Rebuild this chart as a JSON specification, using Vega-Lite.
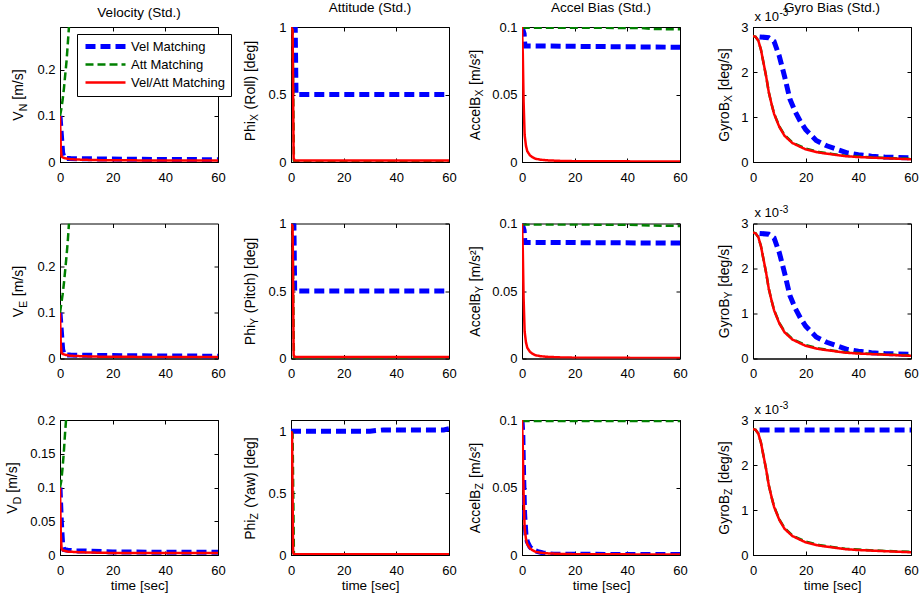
{
"$schema":"https://vega.github.io/schema/vega-lite/v6.json",
"padding":{"left":5,"top":0,"right":5,"bottom":2},
"datasets":{
"VN":[{"s":"Vel Matching","t":0,"v":0.1},{"s":"Vel Matching","t":0.5,"v":0.06},{"s":"Vel Matching","t":1,"v":0.02},{"s":"Vel Matching","t":1.5,"v":0.01},{"s":"Vel Matching","t":2,"v":0.008},{"s":"Vel Matching","t":4,"v":0.0075},{"s":"Vel Matching","t":10,"v":0.007},{"s":"Vel Matching","t":25,"v":0.006},{"s":"Vel Matching","t":40,"v":0.0055},{"s":"Vel Matching","t":60,"v":0.005},
{"s":"Att Matching","t":0,"v":0.1},{"s":"Att Matching","t":0.5,"v":0.115},{"s":"Att Matching","t":1,"v":0.135},{"s":"Att Matching","t":1.5,"v":0.16},{"s":"Att Matching","t":2,"v":0.19},{"s":"Att Matching","t":2.5,"v":0.22},{"s":"Att Matching","t":3,"v":0.26},{"s":"Att Matching","t":3.4,"v":0.293},
{"s":"Vel/Att Matching","t":0,"v":0.1},{"s":"Vel/Att Matching","t":0.3,"v":0.03},{"s":"Vel/Att Matching","t":0.6,"v":0.012},{"s":"Vel/Att Matching","t":1,"v":0.01},{"s":"Vel/Att Matching","t":2,"v":0.008},{"s":"Vel/Att Matching","t":4,"v":0.006},{"s":"Vel/Att Matching","t":8,"v":0.005},{"s":"Vel/Att Matching","t":15,"v":0.004},{"s":"Vel/Att Matching","t":30,"v":0.0035},{"s":"Vel/Att Matching","t":60,"v":0.003}],
"VE":[{"s":"Vel Matching","t":0,"v":0.1},{"s":"Vel Matching","t":0.5,"v":0.06},{"s":"Vel Matching","t":1,"v":0.02},{"s":"Vel Matching","t":1.5,"v":0.01},{"s":"Vel Matching","t":2,"v":0.008},{"s":"Vel Matching","t":4,"v":0.0075},{"s":"Vel Matching","t":10,"v":0.007},{"s":"Vel Matching","t":25,"v":0.006},{"s":"Vel Matching","t":40,"v":0.0055},{"s":"Vel Matching","t":60,"v":0.005},
{"s":"Att Matching","t":0,"v":0.1},{"s":"Att Matching","t":0.5,"v":0.12},{"s":"Att Matching","t":1,"v":0.14},{"s":"Att Matching","t":1.5,"v":0.165},{"s":"Att Matching","t":2,"v":0.195},{"s":"Att Matching","t":2.5,"v":0.225},{"s":"Att Matching","t":3,"v":0.26},{"s":"Att Matching","t":3.4,"v":0.295},
{"s":"Vel/Att Matching","t":0,"v":0.1},{"s":"Vel/Att Matching","t":0.3,"v":0.03},{"s":"Vel/Att Matching","t":0.6,"v":0.012},{"s":"Vel/Att Matching","t":1,"v":0.01},{"s":"Vel/Att Matching","t":2,"v":0.008},{"s":"Vel/Att Matching","t":4,"v":0.006},{"s":"Vel/Att Matching","t":8,"v":0.005},{"s":"Vel/Att Matching","t":15,"v":0.004},{"s":"Vel/Att Matching","t":30,"v":0.0035},{"s":"Vel/Att Matching","t":60,"v":0.003}],
"VD":[{"s":"Vel Matching","t":0,"v":0.1},{"s":"Vel Matching","t":0.5,"v":0.05},{"s":"Vel Matching","t":1,"v":0.015},{"s":"Vel Matching","t":1.5,"v":0.008},{"s":"Vel Matching","t":3,"v":0.007},{"s":"Vel Matching","t":6,"v":0.006},{"s":"Vel Matching","t":10,"v":0.006},{"s":"Vel Matching","t":20,"v":0.0045},{"s":"Vel Matching","t":40,"v":0.004},{"s":"Vel Matching","t":60,"v":0.004},
{"s":"Att Matching","t":0,"v":0.1},{"s":"Att Matching","t":0.5,"v":0.11},{"s":"Att Matching","t":1,"v":0.13},{"s":"Att Matching","t":1.5,"v":0.155},{"s":"Att Matching","t":2,"v":0.185},{"s":"Att Matching","t":2.3,"v":0.2},
{"s":"Vel/Att Matching","t":0,"v":0.1},{"s":"Vel/Att Matching","t":0.3,"v":0.03},{"s":"Vel/Att Matching","t":0.6,"v":0.01},{"s":"Vel/Att Matching","t":1,"v":0.007},{"s":"Vel/Att Matching","t":3,"v":0.005},{"s":"Vel/Att Matching","t":8,"v":0.004},{"s":"Vel/Att Matching","t":20,"v":0.003},{"s":"Vel/Att Matching","t":60,"v":0.003}],
"PX":[{"s":"Vel Matching","t":0,"v":1},{"s":"Vel Matching","t":1.6,"v":1},{"s":"Vel Matching","t":1.9,"v":0.5},{"s":"Vel Matching","t":60,"v":0.5},
{"s":"Att Matching","t":0,"v":1},{"s":"Att Matching","t":0.6,"v":0.98},{"s":"Att Matching","t":0.85,"v":0.5},{"s":"Att Matching","t":1.1,"v":0.01},{"s":"Att Matching","t":1.5,"v":0.004},{"s":"Att Matching","t":60,"v":0.004},
{"s":"Vel/Att Matching","t":0,"v":1},{"s":"Vel/Att Matching","t":0.6,"v":0.98},{"s":"Vel/Att Matching","t":0.8,"v":0.5},{"s":"Vel/Att Matching","t":1,"v":0.03},{"s":"Vel/Att Matching","t":1.3,"v":0.012},{"s":"Vel/Att Matching","t":60,"v":0.012}],
"PY":[{"s":"Vel Matching","t":0,"v":1},{"s":"Vel Matching","t":1.1,"v":1},{"s":"Vel Matching","t":1.4,"v":0.5},{"s":"Vel Matching","t":60,"v":0.5},
{"s":"Att Matching","t":0,"v":1},{"s":"Att Matching","t":0.6,"v":0.98},{"s":"Att Matching","t":0.85,"v":0.5},{"s":"Att Matching","t":1.1,"v":0.01},{"s":"Att Matching","t":1.5,"v":0.004},{"s":"Att Matching","t":60,"v":0.004},
{"s":"Vel/Att Matching","t":0,"v":1},{"s":"Vel/Att Matching","t":0.6,"v":0.98},{"s":"Vel/Att Matching","t":0.8,"v":0.5},{"s":"Vel/Att Matching","t":1,"v":0.03},{"s":"Vel/Att Matching","t":1.3,"v":0.012},{"s":"Vel/Att Matching","t":60,"v":0.012}],
"PZ":[{"s":"Vel Matching","t":0,"v":1},{"s":"Vel Matching","t":30,"v":1},{"s":"Vel Matching","t":35,"v":1.01},{"s":"Vel Matching","t":58,"v":1.01},{"s":"Vel Matching","t":60,"v":1.02},
{"s":"Att Matching","t":0,"v":1},{"s":"Att Matching","t":0.6,"v":0.98},{"s":"Att Matching","t":0.85,"v":0.5},{"s":"Att Matching","t":1.1,"v":0.01},{"s":"Att Matching","t":1.5,"v":0.004},{"s":"Att Matching","t":60,"v":0.004},
{"s":"Vel/Att Matching","t":0,"v":1},{"s":"Vel/Att Matching","t":0.4,"v":0.98},{"s":"Vel/Att Matching","t":0.6,"v":0.5},{"s":"Vel/Att Matching","t":0.8,"v":0.02},{"s":"Vel/Att Matching","t":1.1,"v":0.006},{"s":"Vel/Att Matching","t":60,"v":0.006}],
"AX":[{"s":"Vel Matching","t":0,"v":0.1},{"s":"Vel Matching","t":0.8,"v":0.095},{"s":"Vel Matching","t":1.1,"v":0.086},{"s":"Vel Matching","t":60,"v":0.085},
{"s":"Att Matching","t":0,"v":0.1},{"s":"Att Matching","t":0.5,"v":0.0995},{"s":"Att Matching","t":45,"v":0.0993},{"s":"Att Matching","t":50,"v":0.0985},{"s":"Att Matching","t":60,"v":0.0983},
{"s":"Vel/Att Matching","t":0,"v":0.1},{"s":"Vel/Att Matching","t":0.3,"v":0.08},{"s":"Vel/Att Matching","t":0.6,"v":0.045},{"s":"Vel/Att Matching","t":1,"v":0.02},{"s":"Vel/Att Matching","t":1.5,"v":0.012},{"s":"Vel/Att Matching","t":2,"v":0.008},{"s":"Vel/Att Matching","t":3,"v":0.005},{"s":"Vel/Att Matching","t":4,"v":0.0035},{"s":"Vel/Att Matching","t":5,"v":0.0025},{"s":"Vel/Att Matching","t":7,"v":0.0017},{"s":"Vel/Att Matching","t":10,"v":0.0012},{"s":"Vel/Att Matching","t":15,"v":0.0008},{"s":"Vel/Att Matching","t":20,"v":0.0006},{"s":"Vel/Att Matching","t":30,"v":0.0005},{"s":"Vel/Att Matching","t":60,"v":0.0004}],
"AY":[{"s":"Vel Matching","t":0,"v":0.1},{"s":"Vel Matching","t":0.8,"v":0.095},{"s":"Vel Matching","t":1.1,"v":0.086},{"s":"Vel Matching","t":60,"v":0.0855},
{"s":"Att Matching","t":0,"v":0.1},{"s":"Att Matching","t":0.5,"v":0.0993},{"s":"Att Matching","t":40,"v":0.0991},{"s":"Att Matching","t":50,"v":0.0985},{"s":"Att Matching","t":60,"v":0.0982},
{"s":"Vel/Att Matching","t":0,"v":0.1},{"s":"Vel/Att Matching","t":0.3,"v":0.08},{"s":"Vel/Att Matching","t":0.6,"v":0.045},{"s":"Vel/Att Matching","t":1,"v":0.02},{"s":"Vel/Att Matching","t":1.5,"v":0.012},{"s":"Vel/Att Matching","t":2,"v":0.008},{"s":"Vel/Att Matching","t":3,"v":0.005},{"s":"Vel/Att Matching","t":4,"v":0.0035},{"s":"Vel/Att Matching","t":5,"v":0.0025},{"s":"Vel/Att Matching","t":7,"v":0.0017},{"s":"Vel/Att Matching","t":10,"v":0.0012},{"s":"Vel/Att Matching","t":15,"v":0.0008},{"s":"Vel/Att Matching","t":20,"v":0.0006},{"s":"Vel/Att Matching","t":30,"v":0.0005},{"s":"Vel/Att Matching","t":60,"v":0.0004}],
"AZ":[{"s":"Vel Matching","t":0,"v":0.1},{"s":"Vel Matching","t":0.3,"v":0.09},{"s":"Vel Matching","t":0.6,"v":0.06},{"s":"Vel Matching","t":1,"v":0.03},{"s":"Vel Matching","t":1.5,"v":0.015},{"s":"Vel Matching","t":2,"v":0.01},{"s":"Vel Matching","t":3,"v":0.006},{"s":"Vel Matching","t":4,"v":0.004},{"s":"Vel Matching","t":6,"v":0.0025},{"s":"Vel Matching","t":8,"v":0.0015},{"s":"Vel Matching","t":10,"v":0.001},{"s":"Vel Matching","t":12,"v":0.0006},{"s":"Vel Matching","t":15,"v":0.0005},{"s":"Vel Matching","t":60,"v":0.0004},
{"s":"Att Matching","t":0,"v":0.1},{"s":"Att Matching","t":0.5,"v":0.0993},{"s":"Att Matching","t":60,"v":0.0992},
{"s":"Vel/Att Matching","t":0,"v":0.1},{"s":"Vel/Att Matching","t":0.3,"v":0.08},{"s":"Vel/Att Matching","t":0.6,"v":0.045},{"s":"Vel/Att Matching","t":1,"v":0.02},{"s":"Vel/Att Matching","t":1.5,"v":0.012},{"s":"Vel/Att Matching","t":2,"v":0.008},{"s":"Vel/Att Matching","t":3,"v":0.005},{"s":"Vel/Att Matching","t":4,"v":0.0035},{"s":"Vel/Att Matching","t":5,"v":0.0025},{"s":"Vel/Att Matching","t":7,"v":0.0017},{"s":"Vel/Att Matching","t":10,"v":0.0012},{"s":"Vel/Att Matching","t":15,"v":0.0008},{"s":"Vel/Att Matching","t":20,"v":0.0006},{"s":"Vel/Att Matching","t":30,"v":0.0005},{"s":"Vel/Att Matching","t":60,"v":0.0004}],
"GX":[{"s":"Vel Matching","t":2.5,"v":0.00278},{"s":"Vel Matching","t":6,"v":0.00276},{"s":"Vel Matching","t":8,"v":0.00268},{"s":"Vel Matching","t":10,"v":0.00235},{"s":"Vel Matching","t":12,"v":0.0019},{"s":"Vel Matching","t":14,"v":0.0014},{"s":"Vel Matching","t":16,"v":0.00112},{"s":"Vel Matching","t":18,"v":0.0009},{"s":"Vel Matching","t":20,"v":0.00072},{"s":"Vel Matching","t":24,"v":0.00048},{"s":"Vel Matching","t":28,"v":0.00036},{"s":"Vel Matching","t":32,"v":0.00028},{"s":"Vel Matching","t":36,"v":0.0002},{"s":"Vel Matching","t":40,"v":0.00016},{"s":"Vel Matching","t":45,"v":0.00013},{"s":"Vel Matching","t":50,"v":0.00011},{"s":"Vel Matching","t":55,"v":0.0001},{"s":"Vel Matching","t":60,"v":0.00009},
{"s":"Att Matching","t":0,"v":0.0028},{"s":"Att Matching","t":1,"v":0.00278},{"s":"Att Matching","t":2,"v":0.0027},{"s":"Att Matching","t":3,"v":0.0025},{"s":"Att Matching","t":4,"v":0.0022},{"s":"Att Matching","t":5,"v":0.0019},{"s":"Att Matching","t":6,"v":0.00155},{"s":"Att Matching","t":7,"v":0.0013},{"s":"Att Matching","t":8,"v":0.00108},{"s":"Att Matching","t":10,"v":0.00079},{"s":"Att Matching","t":12,"v":0.0006},{"s":"Att Matching","t":15,"v":0.00043},{"s":"Att Matching","t":20,"v":0.0003},{"s":"Att Matching","t":25,"v":0.00022},{"s":"Att Matching","t":30,"v":0.00018},{"s":"Att Matching","t":35,"v":0.00014},{"s":"Att Matching","t":40,"v":0.00012},{"s":"Att Matching","t":50,"v":0.00009},{"s":"Att Matching","t":60,"v":0.00007},
{"s":"Vel/Att Matching","t":0,"v":0.0028},{"s":"Vel/Att Matching","t":1,"v":0.00278},{"s":"Vel/Att Matching","t":2,"v":0.0027},{"s":"Vel/Att Matching","t":3,"v":0.0025},{"s":"Vel/Att Matching","t":4,"v":0.0022},{"s":"Vel/Att Matching","t":5,"v":0.0019},{"s":"Vel/Att Matching","t":6,"v":0.00155},{"s":"Vel/Att Matching","t":7,"v":0.0013},{"s":"Vel/Att Matching","t":8,"v":0.00107},{"s":"Vel/Att Matching","t":10,"v":0.00078},{"s":"Vel/Att Matching","t":12,"v":0.00058},{"s":"Vel/Att Matching","t":15,"v":0.00042},{"s":"Vel/Att Matching","t":20,"v":0.00028},{"s":"Vel/Att Matching","t":25,"v":0.00021},{"s":"Vel/Att Matching","t":30,"v":0.00017},{"s":"Vel/Att Matching","t":35,"v":0.00013},{"s":"Vel/Att Matching","t":40,"v":0.00011},{"s":"Vel/Att Matching","t":50,"v":0.000085},{"s":"Vel/Att Matching","t":60,"v":0.00006}],
"GY":[{"s":"Vel Matching","t":2.5,"v":0.00278},{"s":"Vel Matching","t":6,"v":0.00276},{"s":"Vel Matching","t":8,"v":0.00268},{"s":"Vel Matching","t":10,"v":0.00235},{"s":"Vel Matching","t":12,"v":0.0019},{"s":"Vel Matching","t":14,"v":0.0014},{"s":"Vel Matching","t":16,"v":0.00112},{"s":"Vel Matching","t":18,"v":0.0009},{"s":"Vel Matching","t":20,"v":0.00072},{"s":"Vel Matching","t":24,"v":0.00048},{"s":"Vel Matching","t":28,"v":0.00036},{"s":"Vel Matching","t":32,"v":0.00028},{"s":"Vel Matching","t":36,"v":0.0002},{"s":"Vel Matching","t":40,"v":0.00016},{"s":"Vel Matching","t":45,"v":0.00013},{"s":"Vel Matching","t":50,"v":0.00011},{"s":"Vel Matching","t":55,"v":0.0001},{"s":"Vel Matching","t":60,"v":0.00009},
{"s":"Att Matching","t":0,"v":0.0028},{"s":"Att Matching","t":1,"v":0.00278},{"s":"Att Matching","t":2,"v":0.0027},{"s":"Att Matching","t":3,"v":0.0025},{"s":"Att Matching","t":4,"v":0.0022},{"s":"Att Matching","t":5,"v":0.0019},{"s":"Att Matching","t":6,"v":0.00155},{"s":"Att Matching","t":7,"v":0.0013},{"s":"Att Matching","t":8,"v":0.00108},{"s":"Att Matching","t":10,"v":0.00079},{"s":"Att Matching","t":12,"v":0.0006},{"s":"Att Matching","t":15,"v":0.00043},{"s":"Att Matching","t":20,"v":0.0003},{"s":"Att Matching","t":25,"v":0.00022},{"s":"Att Matching","t":30,"v":0.00018},{"s":"Att Matching","t":35,"v":0.00014},{"s":"Att Matching","t":40,"v":0.00012},{"s":"Att Matching","t":50,"v":0.00009},{"s":"Att Matching","t":60,"v":0.00007},
{"s":"Vel/Att Matching","t":0,"v":0.0028},{"s":"Vel/Att Matching","t":1,"v":0.00278},{"s":"Vel/Att Matching","t":2,"v":0.0027},{"s":"Vel/Att Matching","t":3,"v":0.0025},{"s":"Vel/Att Matching","t":4,"v":0.0022},{"s":"Vel/Att Matching","t":5,"v":0.0019},{"s":"Vel/Att Matching","t":6,"v":0.00155},{"s":"Vel/Att Matching","t":7,"v":0.0013},{"s":"Vel/Att Matching","t":8,"v":0.00107},{"s":"Vel/Att Matching","t":10,"v":0.00078},{"s":"Vel/Att Matching","t":12,"v":0.00058},{"s":"Vel/Att Matching","t":15,"v":0.00042},{"s":"Vel/Att Matching","t":20,"v":0.00028},{"s":"Vel/Att Matching","t":25,"v":0.00021},{"s":"Vel/Att Matching","t":30,"v":0.00017},{"s":"Vel/Att Matching","t":35,"v":0.00013},{"s":"Vel/Att Matching","t":40,"v":0.00011},{"s":"Vel/Att Matching","t":50,"v":0.000085},{"s":"Vel/Att Matching","t":60,"v":0.00006}],
"GZ":[{"s":"Vel Matching","t":2.5,"v":0.00278},{"s":"Vel Matching","t":60,"v":0.00278},
{"s":"Att Matching","t":0,"v":0.0028},{"s":"Att Matching","t":1,"v":0.00278},{"s":"Att Matching","t":2,"v":0.0027},{"s":"Att Matching","t":3,"v":0.0025},{"s":"Att Matching","t":4,"v":0.0022},{"s":"Att Matching","t":5,"v":0.0019},{"s":"Att Matching","t":6,"v":0.00155},{"s":"Att Matching","t":7,"v":0.0013},{"s":"Att Matching","t":8,"v":0.00108},{"s":"Att Matching","t":10,"v":0.00079},{"s":"Att Matching","t":12,"v":0.0006},{"s":"Att Matching","t":15,"v":0.00043},{"s":"Att Matching","t":20,"v":0.0003},{"s":"Att Matching","t":25,"v":0.00022},{"s":"Att Matching","t":30,"v":0.00018},{"s":"Att Matching","t":35,"v":0.00014},{"s":"Att Matching","t":40,"v":0.00012},{"s":"Att Matching","t":50,"v":0.00009},{"s":"Att Matching","t":60,"v":0.00007},
{"s":"Vel/Att Matching","t":0,"v":0.0028},{"s":"Vel/Att Matching","t":1,"v":0.00278},{"s":"Vel/Att Matching","t":2,"v":0.0027},{"s":"Vel/Att Matching","t":3,"v":0.0025},{"s":"Vel/Att Matching","t":4,"v":0.0022},{"s":"Vel/Att Matching","t":5,"v":0.0019},{"s":"Vel/Att Matching","t":6,"v":0.00155},{"s":"Vel/Att Matching","t":7,"v":0.0013},{"s":"Vel/Att Matching","t":8,"v":0.00107},{"s":"Vel/Att Matching","t":10,"v":0.00078},{"s":"Vel/Att Matching","t":12,"v":0.00058},{"s":"Vel/Att Matching","t":15,"v":0.00042},{"s":"Vel/Att Matching","t":20,"v":0.00028},{"s":"Vel/Att Matching","t":25,"v":0.00021},{"s":"Vel/Att Matching","t":30,"v":0.00017},{"s":"Vel/Att Matching","t":35,"v":0.00013},{"s":"Vel/Att Matching","t":40,"v":0.00011},{"s":"Vel/Att Matching","t":50,"v":0.000085},{"s":"Vel/Att Matching","t":60,"v":0.00006}]
},
"columns":4,
"spacing":{"row":61.5,"column":73},
"bounds":"flush",
"concat":[
{"width":158,"height":135,"title":"Velocity (Std.)","data":{"name":"VN"},
 "layer":[
  {"mark":{"type":"line","clip":true},"encoding":{
   "x":{"field":"t","type":"quantitative","scale":{"domain":[0,60],"nice":false},"axis":{"values":[0,20,40,60],"title":null}},
   "y":{"field":"v","type":"quantitative","scale":{"domain":[0,0.293],"nice":false},"axis":{"values":[0,0.1,0.2],"format":"~g","title":"V\u00a0\u00a0\u00a0[m/s]","titleX":-37.3,"titleY":93.2,"titleAlign":"left","titleAngle":-90,"titleBaseline":"alphabetic","titleFontSize":14}},
   "color":{"field":"s","type":"nominal","scale":{"domain":["Vel Matching","Att Matching","Vel/Att Matching"],"range":["#0000ff","#008000","#ff0000"]},"legend":{"title":null,"orient":"none","legendX":17,"legendY":7}},
   "strokeDash":{"field":"s","type":"nominal","scale":{"domain":["Vel Matching","Att Matching","Vel/Att Matching"],"range":[[10,5],[8,4],[1,0]]},"legend":{"title":null,"orient":"none","legendX":17,"legendY":7}},
   "strokeWidth":{"field":"s","type":"nominal","scale":{"type":"ordinal","domain":["Vel Matching","Att Matching","Vel/Att Matching"],"range":[5,2.5,2.5]},"legend":{"title":null,"orient":"none","legendX":17,"legendY":7}}}},
  {"mark":{"type":"point","opacity":0,"clip":true},"encoding":{
   "x":{"field":"t","type":"quantitative","axis":{"orient":"top","values":[0,20,40,60],"labels":false,"domain":false,"title":null}},
   "y":{"field":"v","type":"quantitative","axis":{"orient":"right","values":[0,0.1,0.2],"labels":false,"domain":false,"title":null}}}},
  {"mark":{"type":"point","opacity":0,"clip":true},"encoding":{
   "x":{"field":"t","type":"quantitative","axis":null},
   "y":{"field":"v","type":"quantitative","axis":{"orient":"left","labels":false,"ticks":false,"domain":false,"title":"N","titleX":-34,"titleY":83.84,"titleAlign":"left","titleAngle":-90,"titleBaseline":"alphabetic","titleFontSize":10.5}}}}
 ],
 "resolve":{"axis":{"x":"independent","y":"independent"}}},
{"width":158,"height":135,"title":"Attitude (Std.)","data":{"name":"PX"},
 "layer":[
  {"mark":{"type":"line","clip":true},"encoding":{
   "x":{"field":"t","type":"quantitative","scale":{"domain":[0,60],"nice":false},"axis":{"values":[0,20,40,60],"title":null}},
   "y":{"field":"v","type":"quantitative","scale":{"domain":[0,1],"nice":false},"axis":{"values":[0,0.5,1],"format":"~g","title":"Phi\u00a0\u00a0\u00a0(Roll) [deg]","titleX":-37,"titleY":113.8,"titleAlign":"left","titleAngle":-90,"titleBaseline":"alphabetic","titleFontSize":14}},
   "color":{"field":"s","type":"nominal","scale":{"domain":["Vel Matching","Att Matching","Vel/Att Matching"],"range":["#0000ff","#008000","#ff0000"]}},
   "strokeDash":{"field":"s","type":"nominal","scale":{"domain":["Vel Matching","Att Matching","Vel/Att Matching"],"range":[[10,5],[8,4],[1,0]]}},
   "strokeWidth":{"field":"s","type":"nominal","scale":{"type":"ordinal","domain":["Vel Matching","Att Matching","Vel/Att Matching"],"range":[5,2.5,2.5]}}}},
  {"mark":{"type":"point","opacity":0,"clip":true},"encoding":{
   "x":{"field":"t","type":"quantitative","axis":{"orient":"top","values":[0,20,40,60],"labels":false,"domain":false,"title":null}},
   "y":{"field":"v","type":"quantitative","axis":{"orient":"right","values":[0,0.5,1],"labels":false,"domain":false,"title":null}}}},
  {"mark":{"type":"point","opacity":0,"clip":true},"encoding":{
   "x":{"field":"t","type":"quantitative","axis":null},
   "y":{"field":"v","type":"quantitative","axis":{"orient":"left","labels":false,"ticks":false,"domain":false,"title":"X","titleX":-34,"titleY":93.57,"titleAlign":"left","titleAngle":-90,"titleBaseline":"alphabetic","titleFontSize":10.5}}}}
 ],
 "resolve":{"axis":{"x":"independent","y":"independent"}}},
{"width":158,"height":135,"title":"Accel Bias (Std.)","data":{"name":"AX"},
 "layer":[
  {"mark":{"type":"line","clip":true},"encoding":{
   "x":{"field":"t","type":"quantitative","scale":{"domain":[0,60],"nice":false},"axis":{"values":[0,20,40,60],"title":null}},
   "y":{"field":"v","type":"quantitative","scale":{"domain":[0,0.1],"nice":false},"axis":{"values":[0,0.05,0.1],"format":"~g","title":"AccelB\u00a0\u00a0\u00a0[m/s²]","titleX":-42.5,"titleY":112.63,"titleAlign":"left","titleAngle":-90,"titleBaseline":"alphabetic","titleFontSize":14}},
   "color":{"field":"s","type":"nominal","scale":{"domain":["Vel Matching","Att Matching","Vel/Att Matching"],"range":["#0000ff","#008000","#ff0000"]}},
   "strokeDash":{"field":"s","type":"nominal","scale":{"domain":["Vel Matching","Att Matching","Vel/Att Matching"],"range":[[10,5],[8,4],[1,0]]}},
   "strokeWidth":{"field":"s","type":"nominal","scale":{"type":"ordinal","domain":["Vel Matching","Att Matching","Vel/Att Matching"],"range":[5,2.5,2.5]}}}},
  {"mark":{"type":"point","opacity":0,"clip":true},"encoding":{
   "x":{"field":"t","type":"quantitative","axis":{"orient":"top","values":[0,20,40,60],"labels":false,"domain":false,"title":null}},
   "y":{"field":"v","type":"quantitative","axis":{"orient":"right","values":[0,0.05,0.1],"labels":false,"domain":false,"title":null}}}},
  {"mark":{"type":"point","opacity":0,"clip":true},"encoding":{
   "x":{"field":"t","type":"quantitative","axis":null},
   "y":{"field":"v","type":"quantitative","axis":{"orient":"left","labels":false,"ticks":false,"domain":false,"title":"X","titleX":-39.2,"titleY":69.06,"titleAlign":"left","titleAngle":-90,"titleBaseline":"alphabetic","titleFontSize":10.5}}}}
 ],
 "resolve":{"axis":{"x":"independent","y":"independent"}}},
{"width":158,"height":135,"title":{"text":"Gyro Bias (Std.)","offset":-7},"data":{"name":"GX"},
 "layer":[
  {"mark":{"type":"line","clip":true},"encoding":{
   "x":{"field":"t","type":"quantitative","scale":{"domain":[0,60],"nice":false},"axis":{"values":[0,20,40,60],"title":null}},
   "y":{"field":"v","type":"quantitative","scale":{"domain":[0,0.003],"nice":false},"axis":{"values":[0,0.001,0.002,0.003],"labelExpr":"format(datum.value*1000,'~g')","title":"GyroB\u00a0\u00a0\u00a0[deg/s]","titleX":-25,"titleY":114.2,"titleAlign":"left","titleAngle":-90,"titleBaseline":"alphabetic","titleFontSize":14}},
   "color":{"field":"s","type":"nominal","scale":{"domain":["Vel Matching","Att Matching","Vel/Att Matching"],"range":["#0000ff","#008000","#ff0000"]}},
   "strokeDash":{"field":"s","type":"nominal","scale":{"domain":["Vel Matching","Att Matching","Vel/Att Matching"],"range":[[10,5],[8,4],[1,0]]}},
   "strokeWidth":{"field":"s","type":"nominal","scale":{"type":"ordinal","domain":["Vel Matching","Att Matching","Vel/Att Matching"],"range":[5,2.5,2.5]}}}},
  {"mark":{"type":"point","opacity":0,"clip":true},"encoding":{
   "x":{"field":"t","type":"quantitative","axis":{"orient":"top","values":[0,20,40,60],"labels":false,"domain":false,"title":"x 10","titleX":1,"titleY":-7,"titleAlign":"left","titleAngle":0,"titleBaseline":"alphabetic","titleFontSize":13}},
   "y":{"field":"v","type":"quantitative","axis":{"orient":"right","values":[0,0.001,0.002,0.003],"labels":false,"domain":false,"title":null}}}},
  {"mark":{"type":"point","opacity":0,"clip":true},"encoding":{
   "x":{"field":"t","type":"quantitative","axis":{"orient":"top","labels":false,"ticks":false,"domain":false,"title":"-3","titleX":26,"titleY":-11.5,"titleAlign":"left","titleAngle":0,"titleBaseline":"alphabetic","titleFontSize":10}},
   "y":{"field":"v","type":"quantitative","axis":{"orient":"left","labels":false,"ticks":false,"domain":false,"title":"X","titleX":-22,"titleY":74.52,"titleAlign":"left","titleAngle":-90,"titleBaseline":"alphabetic","titleFontSize":10.5}}}}
 ],
 "resolve":{"axis":{"x":"independent","y":"independent"}}},
{"width":158,"height":135,"data":{"name":"VE"},
 "layer":[
  {"mark":{"type":"line","clip":true},"encoding":{
   "x":{"field":"t","type":"quantitative","scale":{"domain":[0,60],"nice":false},"axis":{"values":[0,20,40,60],"title":null}},
   "y":{"field":"v","type":"quantitative","scale":{"domain":[0,0.295],"nice":false},"axis":{"values":[0,0.1,0.2],"format":"~g","title":"V\u00a0\u00a0\u00a0[m/s]","titleX":-37.3,"titleY":93.2,"titleAlign":"left","titleAngle":-90,"titleBaseline":"alphabetic","titleFontSize":14}},
   "color":{"field":"s","type":"nominal","scale":{"domain":["Vel Matching","Att Matching","Vel/Att Matching"],"range":["#0000ff","#008000","#ff0000"]}},
   "strokeDash":{"field":"s","type":"nominal","scale":{"domain":["Vel Matching","Att Matching","Vel/Att Matching"],"range":[[10,5],[8,4],[1,0]]}},
   "strokeWidth":{"field":"s","type":"nominal","scale":{"type":"ordinal","domain":["Vel Matching","Att Matching","Vel/Att Matching"],"range":[5,2.5,2.5]}}}},
  {"mark":{"type":"point","opacity":0,"clip":true},"encoding":{
   "x":{"field":"t","type":"quantitative","axis":{"orient":"top","values":[0,20,40,60],"labels":false,"domain":false,"title":null}},
   "y":{"field":"v","type":"quantitative","axis":{"orient":"right","values":[0,0.1,0.2],"labels":false,"domain":false,"title":null}}}},
  {"mark":{"type":"point","opacity":0,"clip":true},"encoding":{
   "x":{"field":"t","type":"quantitative","axis":null},
   "y":{"field":"v","type":"quantitative","axis":{"orient":"left","labels":false,"ticks":false,"domain":false,"title":"E","titleX":-34,"titleY":83.84,"titleAlign":"left","titleAngle":-90,"titleBaseline":"alphabetic","titleFontSize":10.5}}}}
 ],
 "resolve":{"axis":{"x":"independent","y":"independent"}}},
{"width":158,"height":135,"data":{"name":"PY"},
 "layer":[
  {"mark":{"type":"line","clip":true},"encoding":{
   "x":{"field":"t","type":"quantitative","scale":{"domain":[0,60],"nice":false},"axis":{"values":[0,20,40,60],"title":null}},
   "y":{"field":"v","type":"quantitative","scale":{"domain":[0,1],"nice":false},"axis":{"values":[0,0.5,1],"format":"~g","title":"Phi\u00a0\u00a0\u00a0(Pitch) [deg]","titleX":-37,"titleY":121.19,"titleAlign":"left","titleAngle":-90,"titleBaseline":"alphabetic","titleFontSize":14}},
   "color":{"field":"s","type":"nominal","scale":{"domain":["Vel Matching","Att Matching","Vel/Att Matching"],"range":["#0000ff","#008000","#ff0000"]}},
   "strokeDash":{"field":"s","type":"nominal","scale":{"domain":["Vel Matching","Att Matching","Vel/Att Matching"],"range":[[10,5],[8,4],[1,0]]}},
   "strokeWidth":{"field":"s","type":"nominal","scale":{"type":"ordinal","domain":["Vel Matching","Att Matching","Vel/Att Matching"],"range":[5,2.5,2.5]}}}},
  {"mark":{"type":"point","opacity":0,"clip":true},"encoding":{
   "x":{"field":"t","type":"quantitative","axis":{"orient":"top","values":[0,20,40,60],"labels":false,"domain":false,"title":null}},
   "y":{"field":"v","type":"quantitative","axis":{"orient":"right","values":[0,0.5,1],"labels":false,"domain":false,"title":null}}}},
  {"mark":{"type":"point","opacity":0,"clip":true},"encoding":{
   "x":{"field":"t","type":"quantitative","axis":null},
   "y":{"field":"v","type":"quantitative","axis":{"orient":"left","labels":false,"ticks":false,"domain":false,"title":"Y","titleX":-34,"titleY":100.96,"titleAlign":"left","titleAngle":-90,"titleBaseline":"alphabetic","titleFontSize":10.5}}}}
 ],
 "resolve":{"axis":{"x":"independent","y":"independent"}}},
{"width":158,"height":135,"data":{"name":"AY"},
 "layer":[
  {"mark":{"type":"line","clip":true},"encoding":{
   "x":{"field":"t","type":"quantitative","scale":{"domain":[0,60],"nice":false},"axis":{"values":[0,20,40,60],"title":null}},
   "y":{"field":"v","type":"quantitative","scale":{"domain":[0,0.1],"nice":false},"axis":{"values":[0,0.05,0.1],"format":"~g","title":"AccelB\u00a0\u00a0\u00a0[m/s²]","titleX":-42.5,"titleY":112.63,"titleAlign":"left","titleAngle":-90,"titleBaseline":"alphabetic","titleFontSize":14}},
   "color":{"field":"s","type":"nominal","scale":{"domain":["Vel Matching","Att Matching","Vel/Att Matching"],"range":["#0000ff","#008000","#ff0000"]}},
   "strokeDash":{"field":"s","type":"nominal","scale":{"domain":["Vel Matching","Att Matching","Vel/Att Matching"],"range":[[10,5],[8,4],[1,0]]}},
   "strokeWidth":{"field":"s","type":"nominal","scale":{"type":"ordinal","domain":["Vel Matching","Att Matching","Vel/Att Matching"],"range":[5,2.5,2.5]}}}},
  {"mark":{"type":"point","opacity":0,"clip":true},"encoding":{
   "x":{"field":"t","type":"quantitative","axis":{"orient":"top","values":[0,20,40,60],"labels":false,"domain":false,"title":null}},
   "y":{"field":"v","type":"quantitative","axis":{"orient":"right","values":[0,0.05,0.1],"labels":false,"domain":false,"title":null}}}},
  {"mark":{"type":"point","opacity":0,"clip":true},"encoding":{
   "x":{"field":"t","type":"quantitative","axis":null},
   "y":{"field":"v","type":"quantitative","axis":{"orient":"left","labels":false,"ticks":false,"domain":false,"title":"Y","titleX":-39.2,"titleY":69.06,"titleAlign":"left","titleAngle":-90,"titleBaseline":"alphabetic","titleFontSize":10.5}}}}
 ],
 "resolve":{"axis":{"x":"independent","y":"independent"}}},
{"width":158,"height":135,"data":{"name":"GY"},
 "layer":[
  {"mark":{"type":"line","clip":true},"encoding":{
   "x":{"field":"t","type":"quantitative","scale":{"domain":[0,60],"nice":false},"axis":{"values":[0,20,40,60],"title":null}},
   "y":{"field":"v","type":"quantitative","scale":{"domain":[0,0.003],"nice":false},"axis":{"values":[0,0.001,0.002,0.003],"labelExpr":"format(datum.value*1000,'~g')","title":"GyroB\u00a0\u00a0\u00a0[deg/s]","titleX":-25,"titleY":114.2,"titleAlign":"left","titleAngle":-90,"titleBaseline":"alphabetic","titleFontSize":14}},
   "color":{"field":"s","type":"nominal","scale":{"domain":["Vel Matching","Att Matching","Vel/Att Matching"],"range":["#0000ff","#008000","#ff0000"]}},
   "strokeDash":{"field":"s","type":"nominal","scale":{"domain":["Vel Matching","Att Matching","Vel/Att Matching"],"range":[[10,5],[8,4],[1,0]]}},
   "strokeWidth":{"field":"s","type":"nominal","scale":{"type":"ordinal","domain":["Vel Matching","Att Matching","Vel/Att Matching"],"range":[5,2.5,2.5]}}}},
  {"mark":{"type":"point","opacity":0,"clip":true},"encoding":{
   "x":{"field":"t","type":"quantitative","axis":{"orient":"top","values":[0,20,40,60],"labels":false,"domain":false,"title":"x 10","titleX":1,"titleY":-7,"titleAlign":"left","titleAngle":0,"titleBaseline":"alphabetic","titleFontSize":13}},
   "y":{"field":"v","type":"quantitative","axis":{"orient":"right","values":[0,0.001,0.002,0.003],"labels":false,"domain":false,"title":null}}}},
  {"mark":{"type":"point","opacity":0,"clip":true},"encoding":{
   "x":{"field":"t","type":"quantitative","axis":{"orient":"top","labels":false,"ticks":false,"domain":false,"title":"-3","titleX":26,"titleY":-11.5,"titleAlign":"left","titleAngle":0,"titleBaseline":"alphabetic","titleFontSize":10}},
   "y":{"field":"v","type":"quantitative","axis":{"orient":"left","labels":false,"ticks":false,"domain":false,"title":"Y","titleX":-22,"titleY":74.52,"titleAlign":"left","titleAngle":-90,"titleBaseline":"alphabetic","titleFontSize":10.5}}}}
 ],
 "resolve":{"axis":{"x":"independent","y":"independent"}}},
{"width":158,"height":135,"data":{"name":"VD"},
 "layer":[
  {"mark":{"type":"line","clip":true},"encoding":{
   "x":{"field":"t","type":"quantitative","scale":{"domain":[0,60],"nice":false},"axis":{"values":[0,20,40,60],"title":"time [sec]"}},
   "y":{"field":"v","type":"quantitative","scale":{"domain":[0,0.2],"nice":false},"axis":{"values":[0,0.05,0.1,0.15,0.2],"format":"~g","title":"V\u00a0\u00a0\u00a0[m/s]","titleX":-43.3,"titleY":93.2,"titleAlign":"left","titleAngle":-90,"titleBaseline":"alphabetic","titleFontSize":14}},
   "color":{"field":"s","type":"nominal","scale":{"domain":["Vel Matching","Att Matching","Vel/Att Matching"],"range":["#0000ff","#008000","#ff0000"]}},
   "strokeDash":{"field":"s","type":"nominal","scale":{"domain":["Vel Matching","Att Matching","Vel/Att Matching"],"range":[[10,5],[8,4],[1,0]]}},
   "strokeWidth":{"field":"s","type":"nominal","scale":{"type":"ordinal","domain":["Vel Matching","Att Matching","Vel/Att Matching"],"range":[5,2.5,2.5]}}}},
  {"mark":{"type":"point","opacity":0,"clip":true},"encoding":{
   "x":{"field":"t","type":"quantitative","axis":{"orient":"top","values":[0,20,40,60],"labels":false,"domain":false,"title":null}},
   "y":{"field":"v","type":"quantitative","axis":{"orient":"right","values":[0,0.05,0.1,0.15,0.2],"labels":false,"domain":false,"title":null}}}},
  {"mark":{"type":"point","opacity":0,"clip":true},"encoding":{
   "x":{"field":"t","type":"quantitative","axis":null},
   "y":{"field":"v","type":"quantitative","axis":{"orient":"left","labels":false,"ticks":false,"domain":false,"title":"D","titleX":-40,"titleY":83.84,"titleAlign":"left","titleAngle":-90,"titleBaseline":"alphabetic","titleFontSize":10.5}}}}
 ],
 "resolve":{"axis":{"x":"independent","y":"independent"}}},
{"width":158,"height":135,"data":{"name":"PZ"},
 "layer":[
  {"mark":{"type":"line","clip":true},"encoding":{
   "x":{"field":"t","type":"quantitative","scale":{"domain":[0,60],"nice":false},"axis":{"values":[0,20,40,60],"title":"time [sec]"}},
   "y":{"field":"v","type":"quantitative","scale":{"domain":[0,1.09],"nice":false},"axis":{"values":[0,0.5,1],"format":"~g","title":"Phi\u00a0\u00a0\u00a0(Yaw) [deg]","titleX":-37,"titleY":119.25,"titleAlign":"left","titleAngle":-90,"titleBaseline":"alphabetic","titleFontSize":14}},
   "color":{"field":"s","type":"nominal","scale":{"domain":["Vel Matching","Att Matching","Vel/Att Matching"],"range":["#0000ff","#008000","#ff0000"]}},
   "strokeDash":{"field":"s","type":"nominal","scale":{"domain":["Vel Matching","Att Matching","Vel/Att Matching"],"range":[[10,5],[8,4],[1,0]]}},
   "strokeWidth":{"field":"s","type":"nominal","scale":{"type":"ordinal","domain":["Vel Matching","Att Matching","Vel/Att Matching"],"range":[5,2.5,2.5]}}}},
  {"mark":{"type":"point","opacity":0,"clip":true},"encoding":{
   "x":{"field":"t","type":"quantitative","axis":{"orient":"top","values":[0,20,40,60],"labels":false,"domain":false,"title":null}},
   "y":{"field":"v","type":"quantitative","axis":{"orient":"right","values":[0,0.5,1],"labels":false,"domain":false,"title":null}}}},
  {"mark":{"type":"point","opacity":0,"clip":true},"encoding":{
   "x":{"field":"t","type":"quantitative","axis":null},
   "y":{"field":"v","type":"quantitative","axis":{"orient":"left","labels":false,"ticks":false,"domain":false,"title":"Z","titleX":-34,"titleY":99.02,"titleAlign":"left","titleAngle":-90,"titleBaseline":"alphabetic","titleFontSize":10.5}}}}
 ],
 "resolve":{"axis":{"x":"independent","y":"independent"}}},
{"width":158,"height":135,"data":{"name":"AZ"},
 "layer":[
  {"mark":{"type":"line","clip":true},"encoding":{
   "x":{"field":"t","type":"quantitative","scale":{"domain":[0,60],"nice":false},"axis":{"values":[0,20,40,60],"title":"time [sec]"}},
   "y":{"field":"v","type":"quantitative","scale":{"domain":[0,0.1],"nice":false},"axis":{"values":[0,0.05,0.1],"format":"~g","title":"AccelB\u00a0\u00a0\u00a0[m/s²]","titleX":-42.5,"titleY":112.63,"titleAlign":"left","titleAngle":-90,"titleBaseline":"alphabetic","titleFontSize":14}},
   "color":{"field":"s","type":"nominal","scale":{"domain":["Vel Matching","Att Matching","Vel/Att Matching"],"range":["#0000ff","#008000","#ff0000"]}},
   "strokeDash":{"field":"s","type":"nominal","scale":{"domain":["Vel Matching","Att Matching","Vel/Att Matching"],"range":[[10,5],[8,4],[1,0]]}},
   "strokeWidth":{"field":"s","type":"nominal","scale":{"type":"ordinal","domain":["Vel Matching","Att Matching","Vel/Att Matching"],"range":[5,2.5,2.5]}}}},
  {"mark":{"type":"point","opacity":0,"clip":true},"encoding":{
   "x":{"field":"t","type":"quantitative","axis":{"orient":"top","values":[0,20,40,60],"labels":false,"domain":false,"title":null}},
   "y":{"field":"v","type":"quantitative","axis":{"orient":"right","values":[0,0.05,0.1],"labels":false,"domain":false,"title":null}}}},
  {"mark":{"type":"point","opacity":0,"clip":true},"encoding":{
   "x":{"field":"t","type":"quantitative","axis":null},
   "y":{"field":"v","type":"quantitative","axis":{"orient":"left","labels":false,"ticks":false,"domain":false,"title":"Z","titleX":-39.2,"titleY":69.06,"titleAlign":"left","titleAngle":-90,"titleBaseline":"alphabetic","titleFontSize":10.5}}}}
 ],
 "resolve":{"axis":{"x":"independent","y":"independent"}}},
{"width":158,"height":135,"data":{"name":"GZ"},
 "layer":[
  {"mark":{"type":"line","clip":true},"encoding":{
   "x":{"field":"t","type":"quantitative","scale":{"domain":[0,60],"nice":false},"axis":{"values":[0,20,40,60],"title":"time [sec]"}},
   "y":{"field":"v","type":"quantitative","scale":{"domain":[0,0.003],"nice":false},"axis":{"values":[0,0.001,0.002,0.003],"labelExpr":"format(datum.value*1000,'~g')","title":"GyroB\u00a0\u00a0\u00a0[deg/s]","titleX":-25,"titleY":114.2,"titleAlign":"left","titleAngle":-90,"titleBaseline":"alphabetic","titleFontSize":14}},
   "color":{"field":"s","type":"nominal","scale":{"domain":["Vel Matching","Att Matching","Vel/Att Matching"],"range":["#0000ff","#008000","#ff0000"]}},
   "strokeDash":{"field":"s","type":"nominal","scale":{"domain":["Vel Matching","Att Matching","Vel/Att Matching"],"range":[[10,5],[8,4],[1,0]]}},
   "strokeWidth":{"field":"s","type":"nominal","scale":{"type":"ordinal","domain":["Vel Matching","Att Matching","Vel/Att Matching"],"range":[5,2.5,2.5]}}}},
  {"mark":{"type":"point","opacity":0,"clip":true},"encoding":{
   "x":{"field":"t","type":"quantitative","axis":{"orient":"top","values":[0,20,40,60],"labels":false,"domain":false,"title":"x 10","titleX":1,"titleY":-7,"titleAlign":"left","titleAngle":0,"titleBaseline":"alphabetic","titleFontSize":13}},
   "y":{"field":"v","type":"quantitative","axis":{"orient":"right","values":[0,0.001,0.002,0.003],"labels":false,"domain":false,"title":null}}}},
  {"mark":{"type":"point","opacity":0,"clip":true},"encoding":{
   "x":{"field":"t","type":"quantitative","axis":{"orient":"top","labels":false,"ticks":false,"domain":false,"title":"-3","titleX":26,"titleY":-11.5,"titleAlign":"left","titleAngle":0,"titleBaseline":"alphabetic","titleFontSize":10}},
   "y":{"field":"v","type":"quantitative","axis":{"orient":"left","labels":false,"ticks":false,"domain":false,"title":"Z","titleX":-22,"titleY":74.52,"titleAlign":"left","titleAngle":-90,"titleBaseline":"alphabetic","titleFontSize":10.5}}}}
 ],
 "resolve":{"axis":{"x":"independent","y":"independent"}}}
],
"config":{
 "font":"Liberation Sans",
 "background":"white",
 "view":{"stroke":"black","strokeWidth":1},
 "axis":{"grid":false,"domainColor":"black","domainWidth":1,"tickColor":"black","tickWidth":1,"tickSize":-4,"labelColor":"black","labelFont":"Liberation Sans","labelFontSize":13,"titleColor":"black","titleFont":"Liberation Sans","titleFontSize":13.5,"titleFontWeight":"normal","titlePadding":4,"labelFlush":false,"labelOverlap":false},
 "axisY":{"labelPadding":9},
 "axisX":{"labelPadding":13,"titlePadding":1},
 "title":{"font":"Liberation Sans","fontSize":13.5,"fontWeight":"normal","color":"black","frame":"group","anchor":"middle","offset":7},
 "legend":{"symbolType":"stroke","symbolSize":1600,"clipHeight":13,"labelFont":"Liberation Sans","labelFontSize":13,"labelColor":"black","strokeColor":"black","fillColor":"white","padding":6,"rowPadding":4,"labelOffset":3,"cornerRadius":0},
 "line":{"strokeCap":"butt"}
}
}
